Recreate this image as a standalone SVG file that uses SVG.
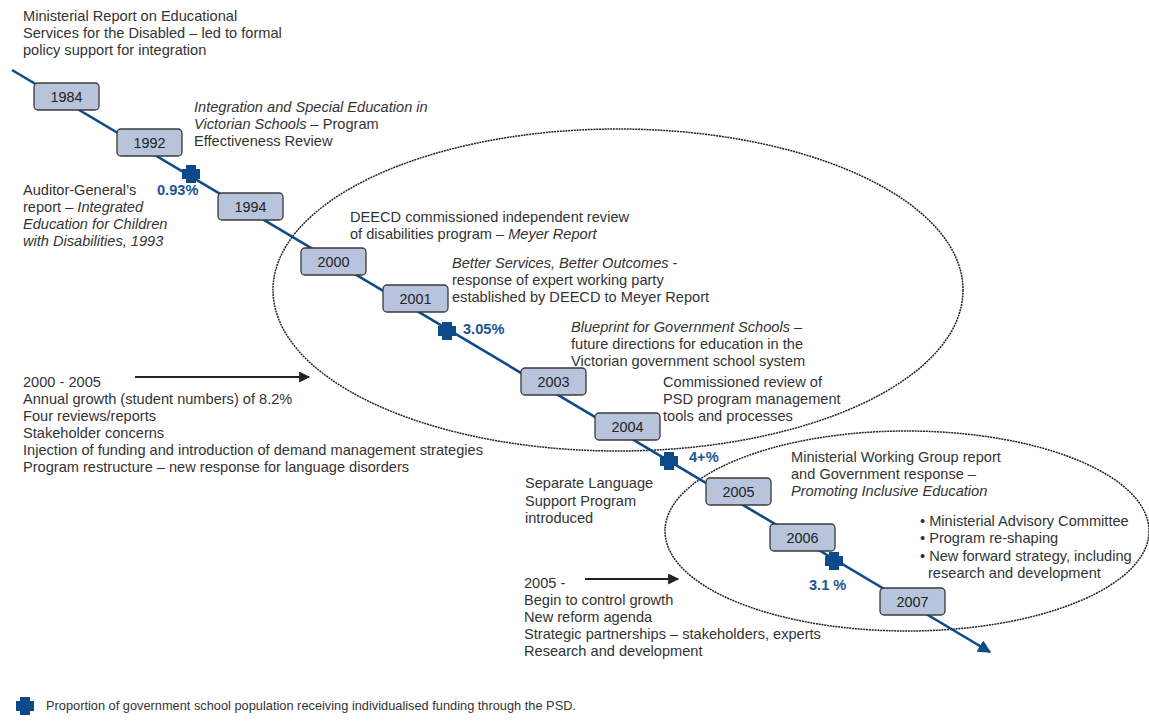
<svg xmlns="http://www.w3.org/2000/svg" width="1149" height="721" viewBox="0 0 1149 721">
<style>
text{font-family:"Liberation Sans",Arial,sans-serif;font-size:14.6px;fill:#333}
.i{font-style:italic}
.yr{text-anchor:middle;fill:#222;font-size:14.4px}
.box{fill:#b8c4dc;stroke:#3a3a3a;stroke-width:1.3}
.pct{font-weight:bold;fill:#1a5596;font-size:14.6px}
.ell{fill:none;stroke:#222;stroke-width:1.5;stroke-dasharray:2 0.8}
.arr{stroke:#222;stroke-width:2.2;fill:none}
.tl{stroke:#0d4b88;stroke-width:2.6;fill:none}
.leg{font-size:12.8px}
</style>
<defs>
<marker id="ah" viewBox="0 0 10 10" refX="9" refY="5" markerWidth="5.5" markerHeight="5" orient="auto" markerUnits="strokeWidth"><path d="M0,0L10,5L0,10z" fill="#222"/></marker>
<marker id="ahb" viewBox="0 0 10 10" refX="9" refY="5" markerWidth="5" markerHeight="5" orient="auto" markerUnits="strokeWidth"><path d="M0,0L10,5L0,10z" fill="#0d4b88"/></marker>
<path id="plus" d="M-5,-9h10v4h4v10h-4v4h-10v-4h-4v-10h4z" fill="#0d4b88"/>
</defs>
<rect width="1149" height="721" fill="#fff"/>
<g id="ellipses">
<ellipse class="ell" cx="618" cy="290" rx="345" ry="161"/>
<ellipse class="ell" cx="907" cy="531" rx="242" ry="100"/>
</g>
<g id="connectors">
<path class="tl" d="M12,70L990,652" marker-end="url(#ahb)"/>
<path class="arr" d="M135,377H309" marker-end="url(#ah)"/>
<path class="arr" d="M585,579H678" marker-end="url(#ah)"/>
</g>
<g id="n1984"><rect class="box" x="34" y="83" width="65" height="27" rx="4"/><text class="yr" x="66.5" y="101.5">1984</text></g>
<g id="n1992"><rect class="box" x="117" y="129" width="65" height="27" rx="4"/><text class="yr" x="149.5" y="147.5">1992</text></g>
<g id="n1994"><rect class="box" x="218" y="193" width="65" height="27" rx="4"/><text class="yr" x="250.5" y="211.5">1994</text></g>
<g id="n2000"><rect class="box" x="301" y="248" width="65" height="27" rx="4"/><text class="yr" x="333.5" y="266.5">2000</text></g>
<g id="n2001"><rect class="box" x="383" y="285" width="65" height="27" rx="4"/><text class="yr" x="415.5" y="303.5">2001</text></g>
<g id="n2003"><rect class="box" x="521" y="368" width="65" height="27" rx="4"/><text class="yr" x="553.5" y="386.5">2003</text></g>
<g id="n2004"><rect class="box" x="595" y="413" width="65" height="27" rx="4"/><text class="yr" x="627.5" y="431.5">2004</text></g>
<g id="n2005"><rect class="box" x="706" y="478" width="65" height="27" rx="4"/><text class="yr" x="738.5" y="496.5">2005</text></g>
<g id="n2006"><rect class="box" x="770" y="524" width="65" height="27" rx="4"/><text class="yr" x="802.5" y="542.5">2006</text></g>
<g id="n2007"><rect class="box" x="880" y="588" width="65" height="27" rx="4"/><text class="yr" x="912.5" y="606.5">2007</text></g>
<g id="markers">
<use href="#plus" x="191" y="174"/><text class="pct" x="157" y="195">0.93%</text>
<use href="#plus" x="447" y="331"/><text class="pct" x="463" y="334">3.05%</text>
<use href="#plus" x="669" y="461"/><text class="pct" x="689" y="462">4+%</text>
<use href="#plus" x="834" y="561"/><text class="pct" x="809" y="590">3.1 %</text>
</g>
<g id="labels">
<text x="23" y="21">Ministerial Report on Educational</text>
<text x="23" y="38">Services for the Disabled – led to formal</text>
<text x="23" y="55">policy support for integration</text>
<text x="194" y="112" class="i">Integration and Special Education in</text>
<text x="194" y="129"><tspan class="i">Victorian Schools</tspan> – Program</text>
<text x="194" y="146">Effectiveness Review</text>
<text x="23" y="195">Auditor-General’s</text>
<text x="23" y="212">report – <tspan class="i">Integrated</tspan></text>
<text x="23" y="229" class="i">Education for Children</text>
<text x="23" y="246" class="i">with Disabilities, 1993</text>
<text x="350" y="222">DEECD commissioned independent review</text>
<text x="350" y="239">of disabilities program – <tspan class="i">Meyer Report</tspan></text>
<text x="452" y="268"><tspan class="i">Better Services, Better Outcomes</tspan> -</text>
<text x="452" y="285">response of expert working party</text>
<text x="452" y="302">established by DEECD to Meyer Report</text>
<text x="571" y="332"><tspan class="i">Blueprint for Government Schools</tspan> –</text>
<text x="571" y="349">future directions for education in the</text>
<text x="571" y="366">Victorian government school system</text>
<text x="663" y="387">Commissioned review of</text>
<text x="663" y="404">PSD program management</text>
<text x="663" y="421">tools and processes</text>
<text x="525" y="488">Separate Language</text>
<text x="525" y="506">Support Program</text>
<text x="525" y="523">introduced</text>
<text x="791" y="462">Ministerial Working Group report</text>
<text x="791" y="479">and Government response –</text>
<text x="791" y="496" class="i">Promoting Inclusive Education</text>
<text x="920" y="526">• Ministerial Advisory Committee</text>
<text x="920" y="543">• Program re-shaping</text>
<text x="920" y="561">• New forward strategy, including</text>
<text x="928" y="578">research and development</text>
<text x="23" y="387">2000 - 2005</text>
<text x="23" y="404">Annual growth (student numbers) of 8.2%</text>
<text x="23" y="421">Four reviews/reports</text>
<text x="23" y="438">Stakeholder concerns</text>
<text x="23" y="455">Injection of funding and introduction of demand management strategies</text>
<text x="23" y="472">Program restructure – new response for language disorders</text>
<text x="524" y="588">2005 -</text>
<text x="524" y="605">Begin to control growth</text>
<text x="524" y="622">New reform agenda</text>
<text x="524" y="639">Strategic partnerships – stakeholders, experts</text>
<text x="524" y="656">Research and development</text>
</g>
<g id="legend">
<use href="#plus" x="25" y="706"/>
<text class="leg" x="46" y="710">Proportion of government school population receiving individualised funding through the PSD.</text>
</g>
</svg>
